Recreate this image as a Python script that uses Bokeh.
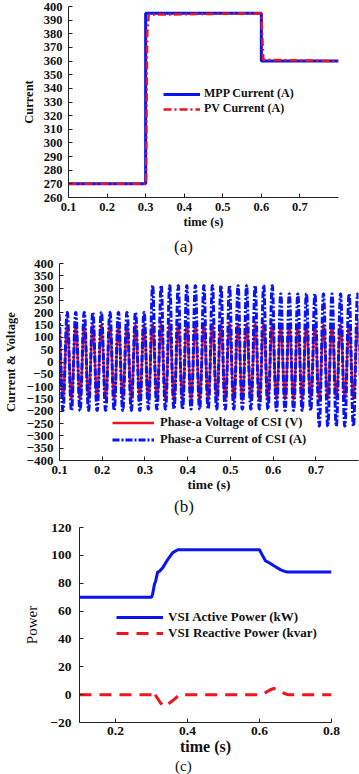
import numpy as np
from bokeh.plotting import figure
from bokeh.models import Legend, LegendItem, Div, FixedTicker
from bokeh.embed import file_html
from bokeh.resources import INLINE

FONT = "Liberation Serif"
BLUE = "#0a14f0"
RED = "#f0141e"

# ---------------- Panel (a) data ----------------
mpp_t = [0.1, 0.3, 0.3, 0.6, 0.6, 0.8]
mpp_i = [270, 270, 395, 395, 360, 360]
pv_t = [0.1, 0.301, 0.304, 0.308, 0.6, 0.602, 0.605, 0.8]
pv_i = [270, 270, 380, 394, 395, 380, 361, 360]
a_xticks = [0.1, 0.2, 0.3, 0.4, 0.5, 0.6, 0.7]
a_yticks = [260, 270, 280, 290, 300, 310, 320, 330, 340, 350, 360, 370, 380, 390, 400]

# ---------------- Panel (b) data ----------------
seg_edges = [0.1, 0.3, 0.6, 0.7, 0.8]
cur_pos_peak = [203, 312, 278, 278]
cur_neg_peak = [-198, -192, -198, -262]
volt_peak = [150, 155, 152, 150]
freq_hz = 50
phase_deg = 126
b_xticks = [0.1, 0.2, 0.3, 0.4, 0.5, 0.6, 0.7]
b_yticks = [-400, -350, -300, -250, -200, -150, -100, -50, 0, 50, 100, 150, 200, 250, 300, 350, 400]

# ---------------- Panel (c) data ----------------
p_t = [0.1, 0.3, 0.303, 0.308, 0.312, 0.317, 0.322, 0.331, 0.345, 0.359, 0.373, 0.38,
       0.6, 0.608, 0.617, 0.628, 0.640, 0.659, 0.67, 0.678, 0.8]
p_kw = [70, 70, 72, 79, 82, 88, 88.5, 91, 97, 102, 104, 104,
        104, 100, 96, 94.5, 92.5, 89.6, 88.5, 88, 88]
q_t = [0.1, 0.3, 0.304, 0.315, 0.325, 0.336, 0.35, 0.365, 0.377,
       0.6, 0.608, 0.62, 0.63, 0.64, 0.655, 0.668, 0.678, 0.8]
q_kvar = [0, 0, 2.5, -2, -6, -8.5, -6, -3, 0,
          0, 0, 2, 3.5, 4.4, 3, 1, 0, 0]
c_xticks = [0.2, 0.4, 0.6, 0.8]
c_yticks = [-20, 0, 20, 40, 60, 80, 100, 120]

captions = ["(a)", "(b)", "(c)"]


def style(p, tick_px, xlab_px, ylab_px, ylab_style="bold", x_standoff=6, y_standoff=6,
          xl_standoff=2, yl_standoff=5):
    p.xgrid.visible = False
    p.ygrid.visible = False
    p.outline_line_color = None
    p.background_fill_color = "white"
    p.border_fill_color = "white"
    for ax in (p.xaxis[0], p.yaxis[0]):
        ax.major_tick_in = 4
        ax.major_tick_out = 0
        ax.minor_tick_line_color = None
        ax.axis_line_color = "#222222"
        ax.major_tick_line_color = "#222222"
        ax.major_label_text_font = FONT
        ax.major_label_text_font_style = "bold"
        ax.major_label_text_font_size = f"{tick_px}px"
        ax.major_label_text_color = "#111111"
        ax.axis_label_text_font = FONT
        ax.axis_label_text_color = "#111111"
    p.xaxis[0].axis_label_text_font_style = "bold"
    p.xaxis[0].axis_label_text_font_size = f"{xlab_px}px"
    p.yaxis[0].axis_label_text_font_style = ylab_style
    p.yaxis[0].axis_label_text_font_size = f"{ylab_px}px"
    p.xaxis[0].major_label_standoff = x_standoff
    p.yaxis[0].major_label_standoff = y_standoff
    p.xaxis[0].axis_label_standoff = xl_standoff
    p.yaxis[0].axis_label_standoff = yl_standoff


def caption_div(text, h, font_px):
    return Div(text=text, width=359, height=h, margin=0,
               styles={"font-family": FONT, "font-size": f"{font_px}px",
                       "line-height": f"{h}px", "text-align": "left",
                       "text-indent": f"{183 - 0.55 * font_px:.0f}px", "color": "#111111",
                       "overflow": "hidden"})


def make_legend(items, loc, gw, gh, standoff, font_px):
    return Legend(items=items, location=loc, glyph_width=gw, glyph_height=gh,
                  label_height=gh, label_standoff=standoff, padding=0, margin=0, spacing=0,
                  background_fill_alpha=0, border_line_alpha=0,
                  label_text_font=FONT, label_text_font_style="bold",
                  label_text_font_size=f"{font_px}px", label_text_color="#111111")


# ---------------- Figure (a) ----------------
fa = figure(width=359, height=237, x_range=(0.1, 0.8), y_range=(260, 400),
            output_backend="svg", toolbar_location=None,
            min_border_left=68, min_border_right=21, min_border_top=6, min_border_bottom=40,
            x_axis_label="time (s)", y_axis_label="Current")
ra1 = fa.line(mpp_t, mpp_i, line_color=BLUE, line_width=3)
ra2 = fa.line(pv_t, pv_i, line_color=RED, line_width=2.5, line_dash="8 3 2 3")
fa.xaxis[0].ticker = FixedTicker(ticks=a_xticks)
fa.yaxis[0].ticker = FixedTicker(ticks=a_yticks)
style(fa, 12.5, 12.5, 12.5, x_standoff=5, xl_standoff=1)
fa.add_layout(make_legend([LegendItem(label="MPP Current (A)", renderers=[ra1]),
                           LegendItem(label="PV Current (A)", renderers=[ra2])],
                          (95, 81), 37, 14, 4, 12))
cap_a = caption_div(captions[0], 19, 17)

# ---------------- Figure (b) ----------------
half = 1.0 / freq_hz / 2
t0 = seg_edges[0] - (phase_deg / 360.0) / freq_hz
n_half = int(np.ceil((seg_edges[-1] - t0) / half)) + 1
tb, ib, vb = [], [], []
for n in range(n_half):
    a = t0 + n * half
    ts = np.linspace(a, a + half, 22)[:-1]
    tp = a + half / 2
    seg = int(np.searchsorted(seg_edges, tp, side="right") - 1)
    seg = min(max(seg, 0), len(cur_pos_peak) - 1)
    shape = np.sin(np.pi * (ts - a) / half)
    amp_i = cur_pos_peak[seg] if n % 2 == 0 else cur_neg_peak[seg]
    amp_v = volt_peak[seg] if n % 2 == 0 else -volt_peak[seg]
    tb.extend(ts.tolist())
    ib.extend((amp_i * shape).tolist())
    vb.extend((amp_v * shape).tolist())

fb = figure(width=359, height=241, x_range=(0.1, 0.8), y_range=(-400, 400),
            output_backend="svg", toolbar_location=None,
            min_border_left=52, min_border_right=1, min_border_top=7, min_border_bottom=37,
            x_axis_label="time (s)", y_axis_label="Current & Voltage")
rb1 = fb.line(tb, vb, line_color=RED, line_width=2.5)
rb2 = fb.line(tb, ib, line_color=BLUE, line_width=3, line_dash="7 2 2 2")
fb.xaxis[0].ticker = FixedTicker(ticks=b_xticks)
fb.yaxis[0].ticker = FixedTicker(ticks=b_yticks)
style(fb, 13, 13.5, 12.5, x_standoff=5, y_standoff=6, xl_standoff=0, yl_standoff=6)
fb.add_layout(make_legend([LegendItem(label="Phase-a Voltage of CSI (V)", renderers=[rb1]),
                           LegendItem(label="Phase-a Current of CSI (A)", renderers=[rb2])],
                          (53, 12), 42, 17, 6, 12.5))
cap_b = caption_div(captions[1], 19, 17)

# ---------------- Figure (c) ----------------
fc = figure(width=359, height=242, x_range=(0.1, 0.8), y_range=(-20, 120),
            output_backend="svg", toolbar_location=None,
            min_border_left=79, min_border_right=28, min_border_top=11, min_border_bottom=36,
            x_axis_label="time (s)", y_axis_label="Power")
rc1 = fc.line(p_t, p_kw, line_color=BLUE, line_width=3)
rc2 = fc.line(q_t, q_kvar, line_color=RED, line_width=3, line_dash="12 8")
fc.xaxis[0].ticker = FixedTicker(ticks=c_xticks)
fc.yaxis[0].ticker = FixedTicker(ticks=c_yticks)
style(fc, 13.5, 16, 15, ylab_style="normal", x_standoff=4, y_standoff=8, xl_standoff=0, yl_standoff=7)
fc.add_layout(make_legend([LegendItem(label="VSI Active Power (kW)", renderers=[rc1]),
                           LegendItem(label="VSI Reactive Power (kvar)", renderers=[rc2])],
                          (37, 81), 47, 14, 5, 13))
cap_c = caption_div(captions[2], 16, 15)

open("out.html", "w").write(file_html([fa, cap_a, fb, cap_b, fc, cap_c], INLINE))
